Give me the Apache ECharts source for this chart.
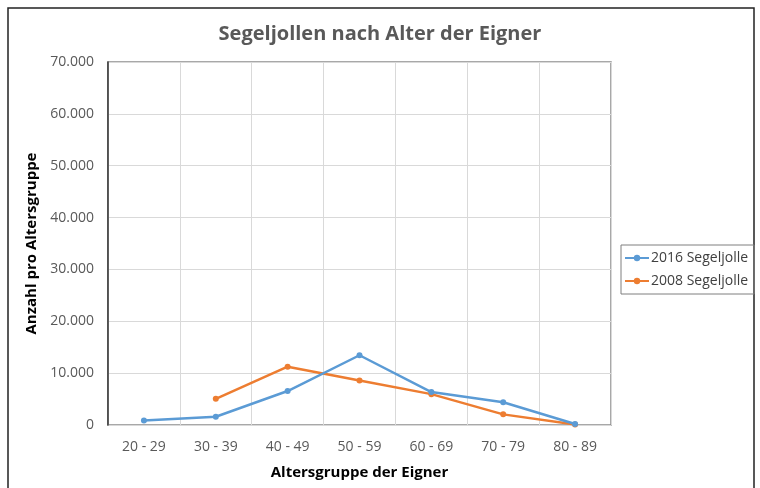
<!DOCTYPE html>
<html>
<head>
<meta charset="utf-8">
<script src="https://cdn.jsdelivr.net/npm/echarts@6/dist/echarts.min.js"></script>
<style>
  html, body { margin: 0; padding: 0; background: #fff; }
  #chart { width: 760px; height: 488px; }
</style>
</head>
<body>
<div id="chart"></div>
<script>
const categories = ['20 - 29', '30 - 39', '40 - 49', '50 - 59', '60 - 69', '70 - 79', '80 - 89']
const sailing2016 = [850, 1600, 6550, 13450, 6350, 4400, 200]
const sailing2008 = [null, 5050, 11250, 8600, 5950, 2050, 80]

const font = 'Open Sans'
const fmt = v => v === 0 ? '0' : v.toLocaleString('de-DE')

const chartDom = document.getElementById('chart')
const myChart = echarts.init(chartDom)
const option = {
    backgroundColor: '#fff',
    textStyle: { fontFamily: font },
    graphic: [{
        type: 'rect',
        shape: { x: 8, y: 8, width: 746, height: 490 },
        style: { fill: 'none', stroke: '#222', lineWidth: 1.5 },
        silent: true
    }],
    title: {
        text: 'Segeljollen nach Alter der Eigner',
        left: 'center',
        top: 19,
        textStyle: { fontFamily: font, fontSize: 20, fontWeight: 'bold', color: '#595959' }
    },
    legend: {
        orient: 'vertical',
        left: 621,
        top: 245,
        padding: [6, 6, 6, 3],
        itemGap: 9,
        itemWidth: 24,
        itemHeight: 8,
        borderColor: '#7f7f7f',
        borderWidth: 1,
        textStyle: { fontFamily: font, fontSize: 14, color: '#404040', padding: [0, 0, 0, -3] },
        data: ['2016 Segeljolle', '2008 Segeljolle']
    },
    grid: {
        left: 108,
        right: 149,
        top: 62,
        bottom: 63,
        show: true,
        borderColor: '#8c8c8c',
        borderWidth: 1.5
    },
    xAxis: {
        type: 'category',
        data: categories,
        boundaryGap: true,
        name: 'Altersgruppe der Eigner',
        nameLocation: 'middle',
        nameGap: 40,
        nameTextStyle: { fontFamily: font, fontSize: 15, fontWeight: 'bold', color: '#000' },
        axisLine: { show: false },
        axisTick: { show: false },
        axisLabel: { fontFamily: font, fontSize: 14, color: '#595959', margin: 15 },
        splitLine: { show: true, lineStyle: { color: '#d9d9d9', width: 1 } }
    },
    yAxis: {
        type: 'value',
        min: 0,
        max: 70000,
        interval: 10000,
        name: 'Anzahl pro Altersgruppe',
        nameLocation: 'middle',
        nameGap: 63,
        nameTextStyle: { fontFamily: font, fontSize: 15, fontWeight: 'bold', color: '#000' },
        axisLine: { show: true, lineStyle: { color: '#333', width: 1.5 } },
        axisTick: { show: false },
        axisLabel: { fontFamily: font, fontSize: 14, color: '#595959', margin: 14, formatter: fmt },
        splitLine: { show: true, lineStyle: { color: '#d9d9d9', width: 1 } }
    },
    series: [{
        name: '2016 Segeljolle',
        type: 'line',
        data: sailing2016,
        color: '#5b9bd5',
        symbol: 'circle',
        symbolSize: 6,
        lineStyle: { width: 2.5 },
        z: 3
    }, {
        name: '2008 Segeljolle',
        type: 'line',
        data: sailing2008,
        color: '#ed7d31',
        symbol: 'circle',
        symbolSize: 6,
        lineStyle: { width: 2.5 },
        z: 2
    }]
}
myChart.setOption(option)
</script>
</body>
</html>
